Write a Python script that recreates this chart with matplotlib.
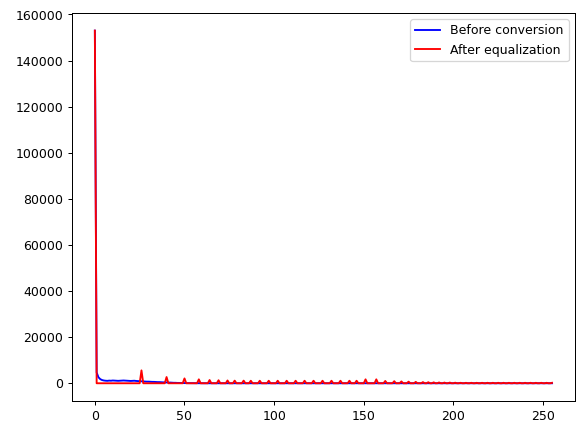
import matplotlib
matplotlib.use("Agg")
import matplotlib.pyplot as plt
import numpy as np

# histogram before conversion: counts for the first bins (the rest are ~0)
before_bins = np.arange(0, 56)
before_counts = [153000, 4700, 2600, 1800, 1400, 1200,
                 1100, 1050, 1150, 1100, 1200, 1150, 1100, 1050, 1100, 1150,
                 1200, 1150, 1100, 1050, 1000, 1050, 1100, 1000, 950, 900,
                 850, 800, 750, 700, 700, 650, 600, 600, 550, 500,
                 500, 450, 400, 400, 350, 300, 300, 250, 200, 200,
                 150, 150, 100, 100, 80, 60, 50, 40, 30, 20]

# histogram after equalization: only some bins are filled
after_bins = [0, 26, 40, 50, 58, 64, 69, 74, 78, 83, 87, 92, 97, 102, 107,
              112, 117, 122, 127, 132, 137, 142, 146, 151, 157, 162, 167, 171,
              175, 179, 183, 186, 189, 192, 195, 198, 201, 204, 207, 210, 213,
              216, 219, 222, 225, 228, 231, 234, 237, 240, 243, 246, 249, 252, 255]
after_counts = [153000, 5600, 2700, 2100, 1700, 1400, 1300, 1200, 1150, 1150,
                1100, 1100, 1100, 1100, 1100, 1100, 1100, 1100, 1100, 1100,
                1100, 1100, 1100, 1700, 1700, 1000, 900, 800, 700, 600, 500,
                450, 400, 350, 300, 300, 250, 200, 200, 200, 200, 200, 200,
                200, 200, 200, 200, 200, 200, 200, 200, 200, 200, 200, 200]

hist_before = np.zeros(256)
hist_before[before_bins] = before_counts
hist_after = np.zeros(256)
hist_after[after_bins] = after_counts

fig = plt.figure(figsize=(6.4, 4.69), dpi=90)
ax = fig.add_axes([0.125, 0.05, 0.873, 0.919])
ax.plot(hist_before, color='blue', label='Before conversion')
ax.plot(hist_after, color='red', label='After equalization')
ax.legend(loc='upper right')

fig.savefig('out.png', dpi=90)
